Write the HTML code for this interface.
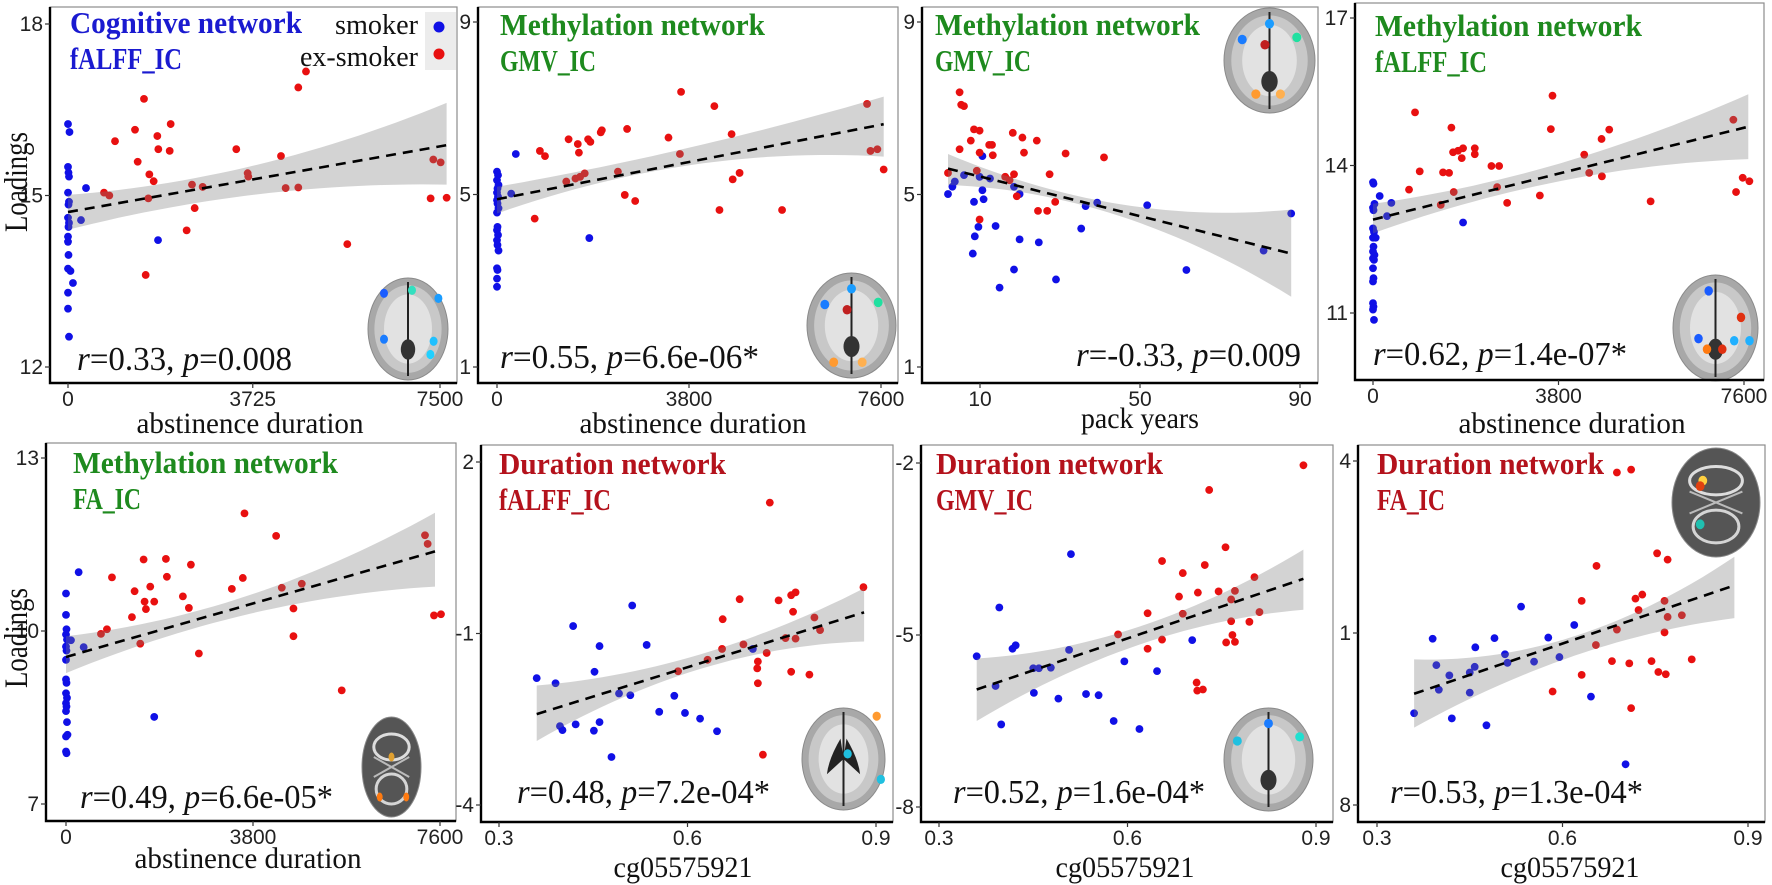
<!DOCTYPE html>
<html>
<head>
<meta charset="utf-8">
<style>
  html,body{margin:0;padding:0;background:#fff;}
  svg{display:block;}
</style>
</head>
<body>
<svg id="fig" width="1772" height="885" viewBox="0 0 1772 885" xmlns="http://www.w3.org/2000/svg"></svg>
<script>
// ---------------- DATA ----------------
const p1XTicks=[0,3725,7500];
const p1XTickLabels=["0","3725","7500"];
const p1YTicks=[18,15,12];
const p1YTickLabels=["18","15","12"];
const p1BlueX=[0,30,0,10,20,0,20,10,0,20,10,0,0,10,0,50,100,0,0,20,363,262,1815];
const p1BlueY=[16.25,16.11,15.50,15.40,15.33,15.05,14.89,14.84,14.61,14.52,14.45,14.28,14.19,13.96,13.72,13.68,13.47,13.30,13.02,12.53,15.13,14.57,14.22];
const p1RedX=[1532,1351,948,1405,1801,1821,2070,2050,1640,1727,1620,726,833,1566,2392,2554,2500,2715,3622,3635,3393,4294,4388,4643,4643,4798,5631,7365,7513,7311,7634];
const p1RedY=[16.69,16.15,15.95,15.59,16.04,15.81,16.25,15.78,15.37,15.25,14.95,15.05,15.00,13.61,14.39,14.78,15.19,15.15,15.39,15.33,15.81,15.69,15.13,15.14,16.89,17.17,14.15,15.63,15.58,14.95,14.96];
const p1LineX=[0,7634];
const p1LineY=[14.71,15.88];
const p1CiX=[0,3630,7634];
const p1CiHi=[15.01,15.50,16.62];
const p1CiLo=[14.40,15.00,15.19];

const p2XTicks=[0,3800,7600];
const p2XTickLabels=["0","3800","7600"];
const p2YTicks=[9,5,1];
const p2YTickLabels=["9","5","1"];
const p2BlueX=[0,20,0,30,10,0,20,0,10,30,0,10,0,20,0,10,30,0,10,0,0,372,281,1827];
const p2BlueY=[5.53,5.45,5.33,5.22,5.14,5.04,4.95,4.87,4.79,4.68,4.58,4.25,4.17,4.06,3.94,3.83,3.70,3.29,3.25,3.05,2.86,5.94,5.02,3.99];
const p2RedX=[3643,4302,2575,2075,2053,1417,1803,1848,1599,1621,849,950,3394,3620,4643,2393,1736,1371,1553,1645,4801,4665,2529,2735,4403,5642,746,7324,7392,7528,7653];
const p2RedY=[7.38,7.05,6.52,6.49,6.44,6.28,6.28,6.22,6.17,5.97,6.01,5.89,6.32,5.94,6.40,5.53,5.49,5.30,5.37,5.41,5.50,5.35,4.99,4.85,4.64,4.64,4.44,7.10,6.01,6.05,5.58];
const p2LineX=[0,7653];
const p2LineY=[4.89,6.63];
const p2CiX=[0,3600,7653];
const p2CiHi=[5.18,6.03,7.27];
const p2CiLo=[4.56,5.64,5.88];

const p3XTicks=[10,50,90];
const p3XTickLabels=["10","50","90"];
const p3YTicks=[9,5,1];
const p3YTickLabels=["9","5","1"];
const p3BlueX=[2.0,3.1,3.7,6.0,10.6,10.9,8.5,9.6,8.7,8.2,13.9,19.9,18.5,14.9,24.7,29.0,35.3,36.4,39.3,18.5,19.9,12.5,9.9,51.8,61.6,80.9,87.8,10.6];
const p3BlueY=[5.01,5.18,5.30,5.45,5.10,4.89,4.83,4.25,4.03,3.63,4.27,3.96,3.26,2.84,3.89,3.03,4.21,4.73,4.81,5.18,5.01,5.37,5.41,4.75,3.25,3.70,4.56,5.89];
const p3RedX=[4.9,5.3,6.0,8.5,9.9,7.7,12.3,13.0,4.9,9.9,13.2,18.2,20.6,24.2,21.0,31.4,41.0,2.0,9.2,16.3,18.5,17.4,27.4,19.2,24.5,26.8,28.8,9.9];
const p3RedY=[7.37,7.08,7.05,6.51,6.48,6.25,6.15,6.15,6.05,5.97,5.91,6.43,6.32,6.25,5.97,5.95,5.86,5.50,5.55,5.41,5.47,5.33,5.47,4.96,4.62,4.62,4.83,4.42];
const p3LineX=[2,87.8];
const p3LineY=[5.60,3.63];
const p3CiX=[2,18.5,87.8];
const p3CiHi=[5.94,5.37,4.65];
const p3CiLo=[5.22,5.08,2.63];

const p4XTicks=[0,3800,7600];
const p4XTickLabels=["0","3800","7600"];
const p4YTicks=[17,14,11];
const p4YTickLabels=["17","14","11"];
const p4BlueX=[0,10,30,0,10,0,20,0,10,0,30,0,20,0,10,0,0,10,0,20,137,376,287,1845,55];
const p4BlueY=[13.66,13.63,13.22,13.14,13.09,12.72,12.65,12.53,12.35,12.25,12.18,12.11,12.08,11.91,11.71,11.64,11.20,11.13,11.07,10.86,13.38,13.24,12.97,12.84,12.53];
const p4RedX=[861,738,957,1606,1435,1558,1654,1388,1640,1743,1845,1818,2085,2085,2426,2584,2543,2748,3418,3677,3643,4327,4429,4682,4839,4689,5687,7382,7437,7573,7710];
const p4RedY=[15.08,13.51,13.88,14.77,13.86,13.85,13.46,13.20,14.27,14.30,14.35,14.15,14.35,14.23,13.99,13.99,13.56,13.24,13.39,15.42,14.74,14.22,13.85,14.54,14.73,13.78,13.27,14.93,13.46,13.75,13.68];
const p4LineX=[0,7689];
const p4LineY=[12.90,14.79];
const p4CiX=[0,2530,7689];
const p4CiHi=[13.22,13.70,15.45];
const p4CiLo=[12.62,13.39,14.13];

const p5XTicks=[0,3800,7600];
const p5XTickLabels=["0","3800","7600"];
const p5YTicks=[13,10,7];
const p5YTickLabels=["13","10","7"];
const p5BlueX=[0,0,10,0,20,0,10,0,0,10,0,20,0,10,0,20,30,0,0,10,257,101,359,1793];
const p5BlueY=[10.65,10.28,10.03,9.94,9.85,9.73,9.66,9.50,9.16,9.10,8.92,8.84,8.75,8.69,8.61,8.42,8.20,8.17,7.91,7.88,11.02,9.84,9.72,8.51];
const p5RedX=[3627,4270,2030,1577,2538,934,2050,3593,1394,1712,3370,2375,1597,1793,1624,2497,1340,4385,4791,4622,711,832,1509,2700,4622,5603,7295,7349,7478,7620];
const p5RedY=[12.04,11.65,11.25,11.24,11.15,10.93,10.94,10.92,10.69,10.77,10.73,10.60,10.51,10.51,10.38,10.40,10.24,10.75,10.82,10.39,9.95,10.03,9.78,9.61,9.91,8.97,11.66,11.51,10.27,10.29];
const p5LineX=[0,7498];
const p5LineY=[9.55,11.38];
const p5CiX=[0,2500,7498];
const p5CiHi=[9.91,10.31,12.05];
const p5CiLo=[9.27,10.02,10.77];

const p6XTicks=[0.3,0.6,0.9];
const p6XTickLabels=["0.3","0.6","0.9"];
const p6YTicks=[2,-1,-4];
const p6YTickLabels=["2","-1","-4"];
const p6BlueX=[0.360,0.390,0.418,0.512,0.452,0.460,0.491,0.509,0.535,0.579,0.555,0.596,0.620,0.647,0.397,0.401,0.422,0.451,0.460,0.479,0.704];
const p6BlueY=[-1.78,-1.87,-0.87,-0.51,-1.67,-1.22,-2.05,-2.08,-1.20,-2.09,-2.37,-2.39,-2.49,-2.71,-2.62,-2.69,-2.59,-2.70,-2.55,-3.16,-1.27];
const p6RedX=[0.731,0.683,0.656,0.745,0.765,0.772,0.768,0.802,0.811,0.880,0.756,0.772,0.689,0.655,0.726,0.632,0.585,0.712,0.711,0.712,0.765,0.794,0.720];
const p6RedY=[1.29,-0.40,-0.75,-0.42,-0.33,-0.28,-0.62,-0.72,-0.94,-0.19,-1.08,-1.09,-1.19,-1.27,-1.34,-1.46,-1.66,-1.49,-1.61,-1.87,-1.67,-1.72,-3.12];
const p6LineX=[0.360,0.881];
const p6LineY=[-2.41,-0.63];
const p6CiX=[0.36,0.6,0.881];
const p6CiHi=[-1.91,-1.43,-0.21];
const p6CiLo=[-2.88,-1.69,-1.14];

const p7XTicks=[0.3,0.6,0.9];
const p7XTickLabels=["0.3","0.6","0.9"];
const p7YTicks=[-2,-5,-8];
const p7YTickLabels=["-2","-5","-8"];
const p7BlueX=[0.360,0.390,0.396,0.417,0.422,0.450,0.459,0.478,0.451,0.490,0.507,0.510,0.534,0.554,0.578,0.595,0.619,0.647,0.703,0.399];
const p7BlueY=[-5.37,-5.89,-4.52,-5.24,-5.18,-5.58,-5.58,-5.57,-6.01,-6.11,-5.26,-3.59,-6.03,-6.05,-6.50,-5.46,-6.64,-5.63,-5.09,-6.56];
const p7RedX=[0.730,0.880,0.756,0.655,0.723,0.688,0.802,0.682,0.712,0.745,0.771,0.765,0.632,0.688,0.810,0.765,0.794,0.585,0.655,0.632,0.767,0.757,0.771,0.710,0.711,0.720];
const p7RedY=[-2.47,-2.04,-3.47,-3.71,-3.78,-3.92,-3.99,-4.33,-4.26,-4.24,-4.23,-4.38,-4.62,-4.63,-4.60,-4.76,-4.77,-4.99,-5.08,-5.24,-5.00,-5.13,-5.12,-5.83,-5.97,-5.95];
const p7LineX=[0.36,0.88];
const p7LineY=[-5.95,-4.02];
const p7CiX=[0.36,0.6,0.88];
const p7CiHi=[-5.41,-4.92,-3.51];
const p7CiLo=[-6.50,-5.24,-4.56];

const p8XTicks=[0.3,0.6,0.9];
const p8XTickLabels=["0.3","0.6","0.9"];
const p8YTicks=[4,1,-2];
const p8YTickLabels=["4","1","8"];
const p8BlueX=[0.360,0.390,0.396,0.400,0.417,0.421,0.450,0.450,0.458,0.459,0.477,0.490,0.507,0.511,0.533,0.554,0.577,0.595,0.619,0.646,0.702];
const p8BlueY=[-0.40,0.90,0.44,0.01,0.26,-0.49,0.31,-0.04,0.41,0.75,-0.61,0.91,0.63,0.48,1.46,0.50,0.92,0.58,1.14,-0.11,-1.29];
const p8RedX=[0.688,0.711,0.753,0.770,0.655,0.631,0.718,0.729,0.765,0.723,0.770,0.793,0.765,0.688,0.654,0.680,0.708,0.744,0.755,0.767,0.809,0.631,0.584,0.711];
const p8RedY=[3.80,3.85,2.39,2.28,2.17,1.56,1.60,1.67,1.56,1.40,1.28,1.31,1.01,1.06,0.79,0.51,0.47,0.51,0.32,0.28,0.54,0.27,-0.02,-0.31];
const p8LineX=[0.36,0.878];
const p8LineY=[-0.06,1.83];
const p8CiX=[0.36,0.6,0.878];
const p8CiHi=[0.54,0.88,2.33];
const p8CiLo=[-0.65,0.53,1.26];

// ---------------- LAYOUT ----------------
const NS="http://www.w3.org/2000/svg";
const svg=document.getElementById('fig');
const BLUE="#1010e6", RED="#e81010";
const TBLUE="#1a1ad0", TGREEN="#1e8a1e", TRED="#b4121c";
const SERIF='"Liberation Serif", serif';
const SANS='"Liberation Sans", sans-serif';

function mk(tag,attrs,parent){
  const e=document.createElementNS(NS,tag);
  for(const k in attrs) e.setAttribute(k,attrs[k]);
  (parent||svg).appendChild(e);
  return e;
}
function lin(a,b){
  const k=(b[1]-a[1])/(b[0]-a[0]);
  return v=>a[1]+(v-a[0])*k;
}

const panels=[
 {n:1,box:[50,457,7,383],xs:[[0,68],[7500,440]],ys:[[18,24],[12,367]],
  xt:p1XTicks,xtl:p1XTickLabels,yt:p1YTicks,ytl:p1YTickLabels,bx:p1BlueX,by:p1BlueY,rx:p1RedX,ry:p1RedY,
  lx:p1LineX,ly:p1LineY,cx:p1CiX,chi:p1CiHi,clo:p1CiLo,
  t1:"Cognitive network",t2:"fALFF_IC",tc:TBLUE,tx:70,ty:33,w1:232,w2:112,
  stat:["0.33","0.008"],sx:77,sy:370,sw:215,
  xl:"abstinence duration",xlx:250,xly:433,xlw:227,
  brain:{x:368,y:278,w:80,h:102,kind:"t1",blobs:[[0.2,0.15,"#1a5cff"],[0.55,0.12,"#33e0c0"],[0.88,0.2,"#1a9cff"],[0.2,0.6,"#1a7cff"],[0.82,0.62,"#20c0ff"],[0.78,0.75,"#20d0ff"]]}},
 {n:2,box:[478,898,7,383],xs:[[0,497],[7600,881]],ys:[[9,22],[1,367]],
  xt:p2XTicks,xtl:p2XTickLabels,yt:p2YTicks,ytl:p2YTickLabels,bx:p2BlueX,by:p2BlueY,rx:p2RedX,ry:p2RedY,
  lx:p2LineX,ly:p2LineY,cx:p2CiX,chi:p2CiHi,clo:p2CiLo,
  t1:"Methylation network",t2:"GMV_IC",tc:TGREEN,tx:500,ty:35,w1:265,w2:96,
  stat:["0.55","6.6e-06*"],sx:500,sy:368,sw:259,
  xl:"abstinence duration",xlx:693,xly:433,xlw:227,
  brain:{x:807,y:273,w:89,h:105,kind:"t1",blobs:[[0.5,0.15,"#1a9cff"],[0.2,0.3,"#1a7cff"],[0.8,0.28,"#20e0a0"],[0.45,0.35,"#c02020"],[0.3,0.85,"#ff9a30"],[0.62,0.85,"#ffb050"]]}},
 {n:3,box:[922,1318,7,383],xs:[[10,980],[50,1140]],ys:[[9,22],[1,367]],
  xt:p3XTicks,xtl:p3XTickLabels,yt:p3YTicks,ytl:p3YTickLabels,bx:p3BlueX,by:p3BlueY,rx:p3RedX,ry:p3RedY,
  lx:p3LineX,ly:p3LineY,cx:p3CiX,chi:p3CiHi,clo:p3CiLo,
  t1:"Methylation network",t2:"GMV_IC",tc:TGREEN,tx:935,ty:35,w1:265,w2:96,
  stat:["-0.33","0.009"],sx:1076,sy:366,sw:225,
  xl:"pack years",xlx:1140,xly:428,xlw:118,
  brain:{x:1224,y:8,w:91,h:105,kind:"t1",blobs:[[0.5,0.15,"#1a9cff"],[0.2,0.3,"#1a7cff"],[0.8,0.28,"#20e0a0"],[0.45,0.35,"#c02020"],[0.35,0.82,"#ff9a30"],[0.62,0.82,"#ffb050"]]}},
 {n:4,box:[1355,1764,3,380],xs:[[0,1373],[7600,1744]],ys:[[17,18],[11,313]],
  xt:p4XTicks,xtl:p4XTickLabels,yt:p4YTicks,ytl:p4YTickLabels,bx:p4BlueX,by:p4BlueY,rx:p4RedX,ry:p4RedY,
  lx:p4LineX,ly:p4LineY,cx:p4CiX,chi:p4CiHi,clo:p4CiLo,
  t1:"Methylation network",t2:"fALFF_IC",tc:TGREEN,tx:1375,ty:36,w1:267,w2:112,
  stat:["0.62","1.4e-07*"],sx:1373,sy:365,sw:254,
  xl:"abstinence duration",xlx:1572,xly:433,xlw:227,
  brain:{x:1673,y:275,w:85,h:106,kind:"t1",blobs:[[0.42,0.15,"#1a5cff"],[0.8,0.4,"#e03010"],[0.3,0.6,"#1a5cff"],[0.4,0.7,"#ff7a10"],[0.58,0.7,"#e03010"],[0.72,0.62,"#20b0ff"],[0.9,0.62,"#20b0ff"]]}},
 {n:5,box:[46,456,443,821],xs:[[0,66],[7600,440]],ys:[[13,458],[7,804]],
  xt:p5XTicks,xtl:p5XTickLabels,yt:p5YTicks,ytl:p5YTickLabels,bx:p5BlueX,by:p5BlueY,rx:p5RedX,ry:p5RedY,
  lx:p5LineX,ly:p5LineY,cx:p5CiX,chi:p5CiHi,clo:p5CiLo,
  t1:"Methylation network",t2:"FA_IC",tc:TGREEN,tx:73,ty:473,w1:265,w2:68,
  stat:["0.49","6.6e-05*"],sx:80,sy:808,sw:253,
  xl:"abstinence duration",xlx:248,xly:868,xlw:227,
  brain:{x:362,y:717,w:59,h:100,kind:"fa",blobs:[[0.5,0.4,"#e0a030"],[0.3,0.8,"#ff7a10"],[0.75,0.8,"#ff7a10"]]}},
 {n:6,box:[481,893,445,822],xs:[[0.3,499],[0.9,876]],ys:[[2,462],[-4,805]],
  xt:p6XTicks,xtl:p6XTickLabels,yt:p6YTicks,ytl:p6YTickLabels,bx:p6BlueX,by:p6BlueY,rx:p6RedX,ry:p6RedY,
  lx:p6LineX,ly:p6LineY,cx:p6CiX,chi:p6CiHi,clo:p6CiLo,
  t1:"Duration network",t2:"fALFF_IC",tc:TRED,tx:499,ty:474,w1:227,w2:112,
  stat:["0.48","7.2e-04*"],sx:517,sy:803,sw:253,
  xl:"cg05575921",xlx:683,xly:877,xlw:139,
  brain:{x:802,y:708,w:83,h:102,kind:"t1v",blobs:[[0.55,0.45,"#20c0e0"],[0.95,0.7,"#20c0e0"],[0.9,0.08,"#ff9a30"]]}},
 {n:7,box:[921,1333,445,822],xs:[[0.3,939],[0.9,1316]],ys:[[-2,463],[-8,807]],
  xt:p7XTicks,xtl:p7XTickLabels,yt:p7YTicks,ytl:p7YTickLabels,bx:p7BlueX,by:p7BlueY,rx:p7RedX,ry:p7RedY,
  lx:p7LineX,ly:p7LineY,cx:p7CiX,chi:p7CiHi,clo:p7CiLo,
  t1:"Duration network",t2:"GMV_IC",tc:TRED,tx:936,ty:474,w1:227,w2:97,
  stat:["0.52","1.6e-04*"],sx:953,sy:803,sw:252,
  xl:"cg05575921",xlx:1125,xly:877,xlw:139,
  brain:{x:1224,y:708,w:89,h:103,kind:"t1",blobs:[[0.5,0.15,"#1a7cff"],[0.15,0.32,"#20c0e0"],[0.85,0.28,"#20e0d0"]]}},
 {n:8,box:[1358,1765,445,822],xs:[[0.3,1377],[0.9,1748]],ys:[[4,461],[-2,805]],
  xt:p8XTicks,xtl:p8XTickLabels,yt:p8YTicks,ytl:p8YTickLabels,bx:p8BlueX,by:p8BlueY,rx:p8RedX,ry:p8RedY,
  lx:p8LineX,ly:p8LineY,cx:p8CiX,chi:p8CiHi,clo:p8CiLo,
  t1:"Duration network",t2:"FA_IC",tc:TRED,tx:1377,ty:474,w1:227,w2:68,
  stat:["0.53","1.3e-04*"],sx:1390,sy:803,sw:253,
  xl:"cg05575921",xlx:1570,xly:877,xlw:139,
  brain:{x:1672,y:448,w:88,h:109,kind:"fa",blobs:[[0.35,0.3,"#ffd040"],[0.32,0.35,"#e04010"],[0.32,0.7,"#20c0b0"]]}}
];

function quad(xs,ys){
  return x=>{
    let s=0;
    for(let i=0;i<3;i++){
      let t=ys[i];
      for(let j=0;j<3;j++) if(j!==i) t*=(x-xs[j])/(xs[i]-xs[j]);
      s+=t;
    }
    return s;
  };
}

function drawBrain(g,b){
  const cx=b.x+b.w/2, cy=b.y+b.h/2;
  if(b.kind==="fa"){
    mk('ellipse',{cx:cx,cy:cy,rx:b.w/2,ry:b.h/2,fill:"#555",stroke:"#888","stroke-width":1},g);
    mk('ellipse',{cx:cx,cy:cy-b.h*0.2,rx:b.w*0.3,ry:b.h*0.13,fill:"none",stroke:"#ddd","stroke-width":3},g);
    mk('ellipse',{cx:cx,cy:cy+b.h*0.22,rx:b.w*0.26,ry:b.h*0.15,fill:"none",stroke:"#d5d5d5","stroke-width":3},g);
    mk('line',{x1:cx-b.w*0.3,y1:cy-b.h*0.1,x2:cx+b.w*0.3,y2:cy+b.h*0.1,stroke:"#bbb","stroke-width":2},g);
    mk('line',{x1:cx+b.w*0.3,y1:cy-b.h*0.1,x2:cx-b.w*0.3,y2:cy+b.h*0.1,stroke:"#bbb","stroke-width":2},g);
  } else {
    mk('ellipse',{cx:cx,cy:cy,rx:b.w/2,ry:b.h/2,fill:"#a8a8a8",stroke:"#8a8a8a","stroke-width":1},g);
    mk('ellipse',{cx:cx,cy:cy,rx:b.w*0.42,ry:b.h*0.43,fill:"#c8c8c8"},g);
    mk('ellipse',{cx:cx,cy:cy,rx:b.w*0.3,ry:b.h*0.34,fill:"#e2e2e2"},g);
    mk('line',{x1:cx,y1:b.y+4,x2:cx,y2:b.y+b.h-4,stroke:"#222","stroke-width":2},g);
    if(b.kind==="t1v"){
      mk('path',{d:`M${cx-3} ${cy-b.h*0.2} Q${cx-b.w*0.18} ${cy} ${cx-b.w*0.2} ${cy+b.h*0.15} L${cx} ${cy} Z`,fill:"#222"},g);
      mk('path',{d:`M${cx+3} ${cy-b.h*0.2} Q${cx+b.w*0.18} ${cy} ${cx+b.w*0.2} ${cy+b.h*0.15} L${cx} ${cy} Z`,fill:"#222"},g);
    } else {
      mk('ellipse',{cx:cx,cy:cy+b.h*0.2,rx:b.w*0.09,ry:b.h*0.1,fill:"#333"},g);
    }
  }
  b.blobs.forEach(bl=>{
    mk('ellipse',{cx:b.x+bl[0]*b.w,cy:b.y+bl[1]*b.h,rx:Math.max(2.5,b.w*0.05),ry:Math.max(2.5,b.h*0.045),fill:bl[2]},g);
  });
}

mk('rect',{x:0,y:0,width:1772,height:885,fill:"#fff"});

panels.forEach(p=>{
  const g=mk('g',{});
  
  
  const [x0,x1,y0,y1]=p.box;
  const X=lin(p.xs[0],p.xs[1]), Y=lin(p.ys[0],p.ys[1]);

  const fr=mk('rect',{x:x0,y:y0,width:x1-x0,height:y1-y0,fill:"#fff",stroke:"#8c8c8c","stroke-width":1.2},g);
  
  

  const bg=mk('g',{},g);
  
  
  drawBrain(bg,p.brain);

  const pts=mk('g',{},g);
  
  
  p.bx.forEach((v,i)=>{
    const c=mk('circle',{cx:X(v),cy:Y(p.by[i]),r:3.9,fill:BLUE},pts);
    
    
  });
  p.rx.forEach((v,i)=>{
    const c=mk('circle',{cx:X(v),cy:Y(p.ry[i]),r:3.9,fill:RED},pts);
    
    
  });

  const hi=quad(p.cx,p.chi), lo=quad(p.cx,p.clo);
  const a=p.cx[0], b=p.cx[2], N=30;
  let d="";
  for(let i=0;i<=N;i++){const xv=a+(b-a)*i/N; d+=(i?"L":"M")+X(xv).toFixed(1)+" "+Y(hi(xv)).toFixed(1);}
  for(let i=N;i>=0;i--){const xv=a+(b-a)*i/N; d+="L"+X(xv).toFixed(1)+" "+Y(lo(xv)).toFixed(1);}
  d+="Z";
  const band=mk('path',{d:d,fill:"rgba(120,120,120,0.33)"},g);
  
  

  const ln=mk('line',{x1:X(p.lx[0]),y1:Y(p.ly[0]),x2:X(p.lx[1]),y2:Y(p.ly[1]),stroke:"#000","stroke-width":2.6,"stroke-dasharray":"10 7"},g);
  
  

  const ax=mk('path',{d:`M${x0} ${y0} L${x0} ${y1} L${x1} ${y1}`,fill:"none",stroke:"#000","stroke-width":2.4},g);
  
  

  p.yt.forEach((v,i)=>{
    const y=Y(v);
    mk('line',{x1:x0-5,y1:y,x2:x0,y2:y,stroke:"#333","stroke-width":1.2},g);
    const t=mk('text',{x:x0-7,y:y+7,"text-anchor":"end","font-family":SANS,"font-size":21,fill:"#222"},g);
    t.textContent=p.ytl[i];
    
    
  });
  p.xt.forEach((v,i)=>{
    const x=X(v);
    mk('line',{x1:x,y1:y1,x2:x,y2:y1+5,stroke:"#333","stroke-width":1.2},g);
    const t=mk('text',{x:x,y:y1+23,"text-anchor":"middle","font-family":SANS,"font-size":21,fill:"#222"},g);
    t.textContent=p.xtl[i];
    
    
  });

  const t1=mk('text',{x:p.tx,y:p.ty,"font-family":SERIF,"font-size":31,"font-weight":"bold",fill:p.tc,textLength:p.w1,lengthAdjust:"spacingAndGlyphs"},g);
  t1.textContent=p.t1;
  
  
  const t2=mk('text',{x:p.tx,y:p.ty+36,"font-family":SERIF,"font-size":31,"font-weight":"bold",fill:p.tc,textLength:p.w2,lengthAdjust:"spacingAndGlyphs"},g);
  t2.textContent=p.t2;
  
  

  const st=mk('text',{x:p.sx,y:p.sy,"font-family":SERIF,"font-size":34,fill:"#111",textLength:p.sw,lengthAdjust:"spacingAndGlyphs"},g);
  
  
  const s1=mk('tspan',{"font-style":"italic"},st); s1.textContent="r";
  const s2=mk('tspan',{},st); s2.textContent="="+p.stat[0]+", ";
  const s3=mk('tspan',{"font-style":"italic"},st); s3.textContent="p";
  const s4=mk('tspan',{},st); s4.textContent="="+p.stat[1];

  const xl=mk('text',{x:p.xlx,y:p.xly,"text-anchor":"middle","font-family":SERIF,"font-size":30,fill:"#111",textLength:p.xlw,lengthAdjust:"spacingAndGlyphs"},g);
  xl.textContent=p.xl;
  
  
});

[182,638].forEach(cy=>{
  const t=mk('text',{x:0,y:0,transform:`translate(27 ${cy}) rotate(-90)`,"text-anchor":"middle","font-family":SERIF,"font-size":33,fill:"#111",textLength:100,lengthAdjust:"spacingAndGlyphs"});
  t.textContent="Loadings";
  
  
});

const lg=mk('g',{});


mk('rect',{x:425,y:12,width:31,height:58,fill:"#ececec"},lg);
const ls=mk('text',{x:418,y:34,"text-anchor":"end","font-family":SERIF,"font-size":28,fill:"#111",textLength:83,lengthAdjust:"spacingAndGlyphs"},lg);
ls.textContent="smoker";


mk('circle',{cx:439,cy:27,r:5.5,fill:BLUE},lg);
const le=mk('text',{x:418,y:66,"text-anchor":"end","font-family":SERIF,"font-size":28,fill:"#111",textLength:118,lengthAdjust:"spacingAndGlyphs"},lg);
le.textContent="ex-smoker";


mk('circle',{cx:439,cy:54,r:5.5,fill:RED},lg);
</script>
</body>
</html>
